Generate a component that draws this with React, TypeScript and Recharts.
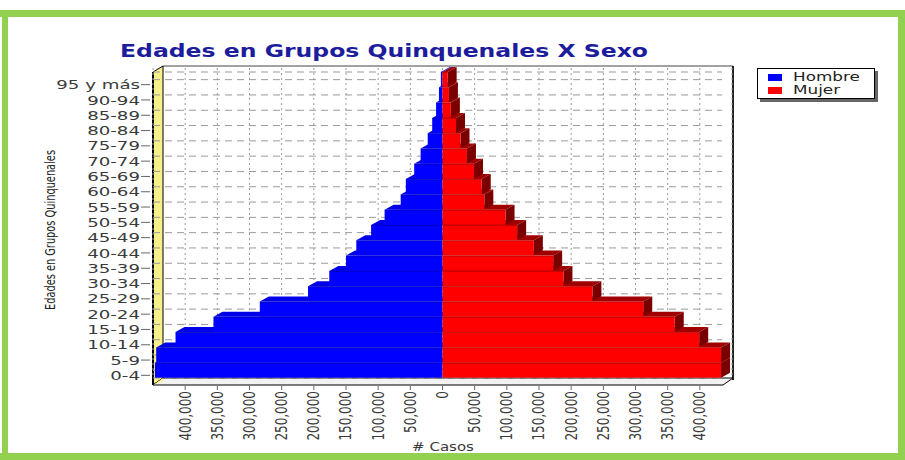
import React from 'react'
import { BarChart, Bar, XAxis, YAxis, CartesianGrid, Legend } from 'recharts'

// age groups, bottom to top
const GRUPOS = [
  '0-4', '5-9', '10-14', '15-19', '20-24', '25-29', '30-34', '35-39', '40-44', '45-49',
  '50-54', '55-59', '60-64', '65-69', '70-74', '75-79', '80-84', '85-89', '90-94', '95 y más',
]
const HOMBRE = [
  447000, 445000, 415000, 356000, 284000, 209000, 176000, 150000, 134000, 111000,
  90000, 65000, 57000, 44000, 34000, 23000, 16000, 10000, 5500, 2500,
]
const MUJER = [
  433000, 433000, 399000, 361000, 312000, 233000, 188000, 172000, 142000, 116000,
  98000, 65000, 61000, 49000, 38000, 28000, 21000, 13000, 10000, 8000,
]
const X_TICKS = [
  -400000, -350000, -300000, -250000, -200000, -150000, -100000, -50000, 0,
  50000, 100000, 150000, 200000, 250000, 300000, 350000, 400000,
]
const X_MAX = 450000

const W = 905
const H = 460
const PLOT_LEFT = 153
const PLOT_TOP = 72
const PLOT_RIGHT = 732
const PLOT_BOTTOM = 378
const DEPTH_X = 9
const DEPTH_Y = 5
const FONT = "'DejaVu Sans', Verdana, sans-serif"
const STRETCH = 1.4
const GREEN = '#92d050'

const data = GRUPOS.map((grupo, i) => ({ grupo, hombre: -HOMBRE[i], mujer: MUJER[i] }))

const fmt = (v: number) => Math.abs(v).toLocaleString('en-US')

// front face + top face (+ side face for the right-hand bars)
function Bar3D(props: any) {
  const { x, y, width, height, fill, faceTop, faceSide } = props
  if (x == null || y == null || !width) return null
  const x0 = Math.min(x, x + width)
  const x1 = x0 + Math.abs(width)
  const y0 = Math.min(y, y + height)
  const h = Math.abs(height)
  return (
    <g>
      <polygon
        points={`${x0},${y0} ${x0 + DEPTH_X},${y0 - DEPTH_Y} ${x1 + DEPTH_X},${y0 - DEPTH_Y} ${x1},${y0}`}
        fill={faceTop}
      />
      {faceSide && (
        <polygon
          points={`${x1},${y0} ${x1 + DEPTH_X},${y0 - DEPTH_Y} ${x1 + DEPTH_X},${y0 + h - DEPTH_Y} ${x1},${y0 + h}`}
          fill={faceSide}
        />
      )}
      <rect x={x0} y={y0} width={x1 - x0} height={h} fill={fill} />
      <line x1={x0} x2={x1} y1={y0 + 0.5} y2={y0 + 0.5} stroke="rgba(0,0,0,0.22)" />
    </g>
  )
}

function YTick(props: any) {
  const { x, y, payload } = props
  return (
    <g>
      <line x1={x - 12} x2={x - 3} y1={y + 5} y2={y + 5} stroke="#666" />
      <text
        transform={`translate(${x - 13},${y + 5}) scale(${STRETCH},1)`}
        textAnchor="end"
        dy="0.35em"
        fontSize={13}
        fontFamily={FONT}
        fill="#3a3a3a"
      >
        {payload.value}
      </text>
    </g>
  )
}

function XTick(props: any) {
  const { x, y, payload } = props
  return (
    <g>
      <line x1={x} x2={x} y1={y + 8} y2={y + 12} stroke="#666" />
      <text
        transform={`translate(${x},${y + 13}) scale(1.3,1) rotate(-90)`}
        textAnchor="end"
        dy="0.35em"
        fontSize={12}
        fontFamily={FONT}
        fill="#3a3a3a"
      >
        {fmt(payload.value)}
      </text>
    </g>
  )
}

function LegendBox(props: any) {
  const items = props.payload || []
  return (
    <div
      style={{
        position: 'relative', width: 116, height: 29, border: '1px solid #000',
        background: '#fff', boxShadow: '3px 3px 0 #666', fontFamily: FONT,
      }}
    >
      {items.map((it: any, i: number) => (
        <div key={it.value} style={{ position: 'absolute', left: 0, top: 3 + i * 13, height: 12, width: 116 }}>
          <span style={{ position: 'absolute', left: 10, top: 2, width: 14, height: 7, background: it.color }} />
          <span
            style={{
              position: 'absolute', left: 35, top: -2, fontSize: 12, lineHeight: '14px', color: '#222',
              transform: `scaleX(${STRETCH})`, transformOrigin: 'left center', whiteSpace: 'nowrap',
            }}
          >
            {it.value}
          </span>
        </div>
      ))}
    </div>
  )
}

function Frame() {
  return (
    <svg width={W} height={H} style={{ position: 'absolute', left: 0, top: 0 }}>
      <rect x={0} y={0} width={W} height={H} fill="#fff" />
      {/* green page frame */}
      <rect x={0} y={10} width={W} height={7} fill={GREEN} />
      <rect x={2} y={10} width={6} height={450} fill={GREEN} />
      <rect x={0} y={453} width={W} height={7} fill={GREEN} />
      <rect x={898} y={10} width={7} height={450} fill={GREEN} />

      <text x={120} y={57} fontSize={17} fontWeight="bold" fontFamily={FONT} fill="#1c1c9c"
        textLength={528} lengthAdjust="spacingAndGlyphs">
        Edades en Grupos Quinquenales X Sexo
      </text>

      {/* back wall border */}
      <line x1={PLOT_LEFT + 10} x2={PLOT_RIGHT + 1} y1={66} y2={66} stroke="#444" />
      <line x1={PLOT_RIGHT + 1} x2={PLOT_RIGHT + 1} y1={66} y2={PLOT_BOTTOM + 2} stroke="#222" strokeWidth={2} />

      {/* left wall */}
      <polygon
        points={`${PLOT_LEFT},${PLOT_TOP} ${PLOT_LEFT + 10},66 ${PLOT_LEFT + 10},${PLOT_BOTTOM} ${PLOT_LEFT},${PLOT_BOTTOM + 7}`}
        fill="#f7f08a" stroke="#000" strokeWidth={1}
      />
      <line x1={PLOT_LEFT} x2={PLOT_LEFT} y1={PLOT_TOP} y2={PLOT_BOTTOM + 7} stroke="#000" strokeWidth={2} />

      {/* floor */}
      <polygon
        points={`${PLOT_LEFT},${PLOT_BOTTOM + 7} ${PLOT_LEFT + 10},${PLOT_BOTTOM} ${PLOT_RIGHT + 1},${PLOT_BOTTOM} ${PLOT_RIGHT - 9},${PLOT_BOTTOM + 7}`}
        fill="#f2f2f2" stroke="#000" strokeWidth={1}
      />
      <polygon
        points={`${PLOT_LEFT},${PLOT_BOTTOM + 7} ${PLOT_LEFT + 10},${PLOT_BOTTOM} ${PLOT_LEFT + 10},${PLOT_BOTTOM + 3}`}
        fill="#f7f08a"
      />

      <text transform="translate(55,230) rotate(-90)" textAnchor="middle" fontSize={14}
        fontFamily="'Liberation Sans Narrow', 'DejaVu Sans Condensed', sans-serif"
        fill="#222" textLength={160} lengthAdjust="spacingAndGlyphs">
        Edades en Grupos Quinquenales
      </text>
      <text x={443} y={451} textAnchor="middle" fontSize={12.5} fontFamily={FONT} fill="#3a3a3a"
        transform="translate(443,0) scale(1.2,1) translate(-443,0)">
        # Casos
      </text>
    </svg>
  )
}

export default function App() {
  const plotW = PLOT_RIGHT - PLOT_LEFT
  const plotH = PLOT_BOTTOM - PLOT_TOP
  return (
    <div style={{ position: 'absolute', left: 0, top: 0, width: W, height: H, overflow: 'hidden', background: '#fff' }}>
      <Frame />
      <div style={{ position: 'absolute', left: 0, top: 0 }}>
        <BarChart
          width={W}
          height={H}
          data={data}
          layout="vertical"
          stackOffset="sign"
          barCategoryGap={0}
          margin={{ top: PLOT_TOP, right: W - PLOT_RIGHT, bottom: 0, left: 0 }}
          style={{ overflow: 'visible' }}
        >
          <g transform="translate(10,-2)">
            <CartesianGrid vertical={false} stroke="#9a9a9a" strokeDasharray="7 5" width={plotW - 10} />
            <CartesianGrid horizontal={false} stroke="#9a9a9a" strokeDasharray="2 3" y={PLOT_TOP - 4} height={plotH + 4} />
          </g>
          <XAxis
            type="number"
            domain={[-X_MAX, X_MAX]}
            ticks={X_TICKS}
            interval={0}
            height={H - PLOT_BOTTOM}
            axisLine={false}
            tickLine={false}
            tickSize={0}
            tickMargin={0}
            tick={<XTick />}
          />
          <YAxis
            type="category"
            dataKey="grupo"
            reversed
            width={PLOT_LEFT}
            axisLine={false}
            tickLine={false}
            tickSize={0}
            tickMargin={0}
            interval={0}
            tick={<YTick />}
          />
          <Legend
            layout="horizontal"
            verticalAlign="middle"
            align="center"
            content={<LegendBox />}
            wrapperStyle={{ position: 'absolute', left: 757, top: 68, width: 118, height: 31 }}
          />
          <Bar
            dataKey="hombre"
            name="Hombre"
            stackId="p"
            fill="#0000ff"
            isAnimationActive={false}
            shape={(p: any) => <Bar3D {...p} faceTop="#0000e8" />}
          />
          <Bar
            dataKey="mujer"
            name="Mujer"
            stackId="p"
            fill="#ff0000"
            isAnimationActive={false}
            shape={(p: any) => <Bar3D {...p} faceTop="#a00000" faceSide="#7a0000" />}
          />
        </BarChart>
      </div>
    </div>
  )
}
